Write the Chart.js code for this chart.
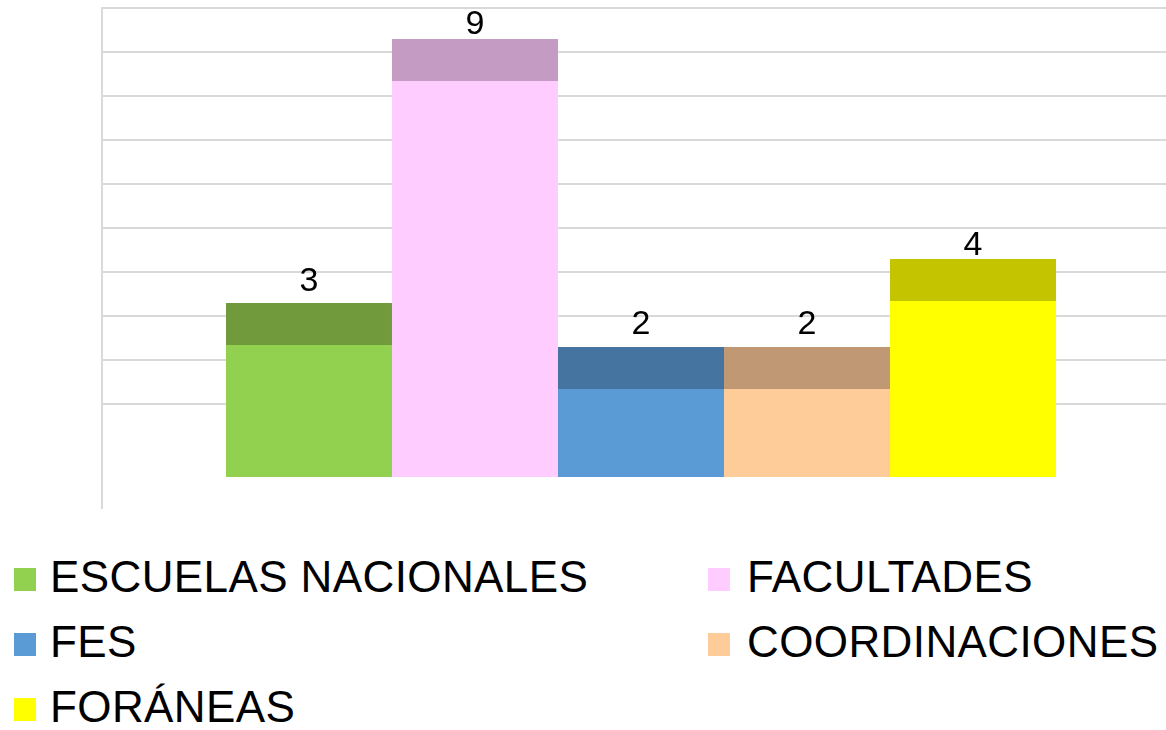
<!DOCTYPE html>
<html>
<head>
<meta charset="utf-8">
<script src="https://cdn.jsdelivr.net/npm/chart.js@4/dist/chart.umd.min.js"></script>
<style>
  html, body { margin: 0; padding: 0; background: #fff; width: 1166px; height: 730px; overflow: hidden; }
  #wrap { position: relative; width: 1166px; height: 730px; overflow: hidden; }
  #c { position: absolute; left: 0; top: 0; }
  .item { position: absolute; font-family: "Liberation Sans", Arial, sans-serif; font-size: 44px; line-height: 50px; letter-spacing: 0.4px; color: #000; white-space: nowrap; }
  .box { position: absolute; width: 22px; height: 23px; }
</style>
</head>
<body>
<div id="wrap">
  <canvas id="c" width="1180" height="510"></canvas>
  <div id="legend"></div>
</div>
<script>
// ---- data ----
const categories = [''];
const seriesNames = ['ESCUELAS NACIONALES', 'FACULTADES', 'FES', 'COORDINACIONES', 'FORÁNEAS'];
const seriesValues = [3, 9, 2, 2, 4];

// ---- styles ----
const frontColors = ['#92D050', '#FFCCFF', '#5B9BD5', '#FECC99', '#FFFF00'];
const topColors   = ['#709A3C', '#C39BC3', '#44749F', '#C09873', '#C4C400'];
const topDepth = 42;
const labelGap = [12, 5, 13, 13, 4];

const topFacePlugin = {
  id: 'topFace',
  afterDatasetsDraw(chart) {
    const ctx = chart.ctx;
    ctx.save();
    chart.data.datasets.forEach((ds, i) => {
      const meta = chart.getDatasetMeta(i);
      meta.data.forEach((bar, j) => {
        const p = bar.getProps(['x', 'y', 'width'], true);
        ctx.fillStyle = topColors[i];
        ctx.fillRect(p.x - p.width / 2, p.y - topDepth, p.width, topDepth);
        ctx.fillStyle = '#000';
        ctx.font = '34px "Liberation Sans", Arial, sans-serif';
        ctx.textAlign = 'center';
        ctx.textBaseline = 'alphabetic';
        ctx.fillText(String(ds.data[j]), p.x, p.y - topDepth - labelGap[i]);
      });
    });
    ctx.restore();
  }
};

const datasets = seriesNames.map((name, i) => ({
  label: name,
  data: [seriesValues[i]],
  backgroundColor: frontColors[i],
  borderWidth: 0,
  yAxisID: 'y',
  barPercentage: 1,
  categoryPercentage: 0.77
}));

new Chart(document.getElementById('c'), {
  type: 'bar',
  data: { labels: categories, datasets },
  options: {
    responsive: false,
    devicePixelRatio: 1,
    animation: false,
    layout: { padding: { left: 102, top: 8, right: 0, bottom: 2 } },
    plugins: { legend: { display: false }, tooltip: { enabled: false } },
    scales: {
      x: { display: false },
      y: { display: false, min: -0.705, max: 10.66 },
      y2: {
        position: 'left',
        min: -2.364, max: 9,
        ticks: { display: false, stepSize: 1 },
        grid: {
          drawTicks: false,
          lineWidth: 2,
          color: (c) => (c.tick && c.tick.value >= 0 ? '#d9d9d9' : 'rgba(0,0,0,0)')
        },
        border: { display: true, color: '#d9d9d9', width: 2 }
      }
    }
  },
  plugins: [topFacePlugin]
});

// ---- legend (HTML, 2 columns) ----
const legendPos = [
  { left: 14, top: 552 }, { left: 708, top: 552 },
  { left: 14, top: 617 }, { left: 708, top: 617 },
  { left: 14, top: 682 }
];
const leg = document.getElementById('legend');
seriesNames.forEach((name, i) => {
  const d = document.createElement('div');
  d.className = 'item';
  d.style.left = legendPos[i].left + 'px';
  d.style.top = legendPos[i].top + 'px';
  const b = document.createElement('span');
  b.className = 'box';
  b.style.background = frontColors[i];
  b.style.left = '0px';
  b.style.top = '16px';
  const t = document.createElement('span');
  t.style.position = 'absolute';
  t.style.left = (i % 2 === 0 ? 36 : 39) + 'px';
  t.style.top = '0px';
  t.textContent = name;
  d.appendChild(b);
  d.appendChild(t);
  leg.appendChild(d);
});
</script>
</body>
</html>
